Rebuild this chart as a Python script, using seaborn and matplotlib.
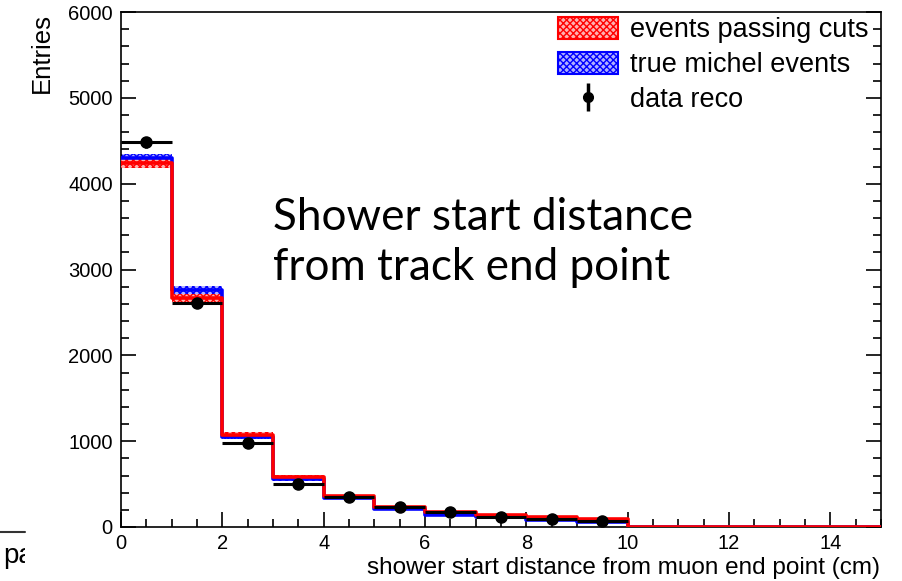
import numpy as np
import pandas as pd
import seaborn as sns
import matplotlib.pyplot as plt
from matplotlib.patches import Patch
from matplotlib.lines import Line2D
from matplotlib.ticker import MultipleLocator
from matplotlib.transforms import Bbox

sns.set_style("ticks")
plt.rcParams["font.family"] = ["Liberation Sans", "DejaVu Sans"]
plt.rcParams["hatch.linewidth"] = 1.0
plt.rcParams["text.color"] = "black"
plt.rcParams["xtick.color"] = "black"
plt.rcParams["ytick.color"] = "black"

# histogram content, bins of 1 cm from 0 to 15
bin_edges = np.arange(0, 16)
bin_centers = bin_edges[:-1] + 0.5

passing = [4240, 2670, 1075, 585, 360, 228, 172, 138, 112, 90, 0, 0, 0, 0, 0]
passing_err = [58, 46, 30, 22, 17, 14, 12, 11, 10, 9, 0, 0, 0, 0, 0]

michel = [4295, 2760, 1050, 560, 340, 208, 145, 118, 86, 64, 0, 0, 0, 0, 0]
michel_err = [50, 48, 28, 20, 16, 13, 11, 10, 9, 8, 0, 0, 0, 0, 0]

data_x = [0.5, 1.5, 2.5, 3.5, 4.5, 5.5, 6.5, 7.5, 8.5, 9.5]
data_y = [4480, 2610, 980, 505, 345, 235, 170, 112, 92, 72]
data_err = [67, 51, 31, 22, 19, 15, 13, 11, 10, 8]

hist_df = pd.DataFrame({"x": bin_centers, "passing": passing, "michel": michel})

fig = plt.figure(figsize=(9.02, 5.81), dpi=100)
ax = fig.add_axes([121 / 902, 54 / 581, 760 / 902, 515 / 581])

# hatched error bands
ax.bar(bin_edges[:-1], 2 * np.array(michel_err), bottom=np.array(michel) - np.array(michel_err),
       width=1, align="edge", facecolor="#b0b0ff", edgecolor="blue", hatch="xxxxx",
       linewidth=0, zorder=2)
ax.bar(bin_edges[:-1], 2 * np.array(passing_err), bottom=np.array(passing) - np.array(passing_err),
       width=1, align="edge", facecolor="#ffb0b0", edgecolor="red", hatch="xxxxx",
       linewidth=0, zorder=3)

# histogram outlines
sns.histplot(data=hist_df, x="x", weights="michel", binwidth=1, binrange=(0, 15),
             element="step", fill=False, color="blue", linewidth=2.6, ax=ax, zorder=4)
sns.histplot(data=hist_df, x="x", weights="passing", binwidth=1, binrange=(0, 15),
             element="step", fill=False, color="red", linewidth=2.6, ax=ax, zorder=5)

# data points
ax.errorbar(data_x, data_y, xerr=0.5, yerr=data_err, fmt="o", color="black",
            markersize=8, elinewidth=2.2, capsize=0, zorder=6)

ax.set_xlim(0, 15)
ax.set_ylim(0, 6000)
ax.set_xlabel("")
ax.set_ylabel("")

ax.xaxis.set_major_locator(MultipleLocator(2))
ax.xaxis.set_minor_locator(MultipleLocator(0.5))
ax.yaxis.set_major_locator(MultipleLocator(1000))
ax.yaxis.set_minor_locator(MultipleLocator(200))
ax.tick_params(which="both", direction="in", right=True, top=False, width=1.2, colors="black")
ax.tick_params(which="major", length=11)
ax.tick_params(which="minor", length=6)
ax.tick_params(axis="x", labelsize=14.5, pad=5)
ax.tick_params(axis="y", labelsize=14.5, pad=6)
for sp in ax.spines.values():
    sp.set_visible(True)
    sp.set_linewidth(1.2)
    sp.set_color("black")

# legend
handles = [
    Patch(facecolor="#ffb0b0", edgecolor="red", hatch="xxxxx", linewidth=1.5),
    Patch(facecolor="#b0b0ff", edgecolor="blue", hatch="xxxxx", linewidth=1.5),
    (Line2D([], [], marker="|", markersize=20, mew=2.5, color="black", ls=""),
     Line2D([], [], marker="o", markersize=7, color="black", ls="")),
]
labels = ["events passing cuts", "true michel events", "data reco"]
ax.legend(handles, labels, loc="upper left", bbox_to_anchor=(558 / 902, 1 - 17 / 581),
          bbox_transform=fig.transFigure, frameon=False, fontsize=19.5,
          handlelength=2.2, handleheight=0.85, handletextpad=0.45,
          labelspacing=0.33, borderpad=0, borderaxespad=0)

# axis titles
fig.text(42 / 902, 1 - 13 / 581, "Entries", rotation=90, ha="center", va="top", fontsize=18.5)
fig.text(880 / 902, 1 - 568 / 581, "shower start distance from muon end point (cm)",
         ha="right", va="center", fontsize=17.5)

# annotation pasted over the plot
fig.text(273 / 902, 1 - 230 / 581, "Shower start distance", family=["Lato", "DejaVu Sans"],
         fontsize=31.7, va="baseline", ha="left")
fig.text(273 / 902, 1 - 280 / 581, "from track end point", family=["Lato", "DejaVu Sans"],
         fontsize=31.7, va="baseline", ha="left")

# leftover fragment of the slide at the bottom left
fig.add_artist(Line2D([0, 25 / 902], [1 - 532 / 581, 1 - 532 / 581], color="#333333", lw=1.5))
frag = fig.text(3 / 902, 1 - 563 / 581, "pa", fontsize=20, va="baseline", ha="left")
frag.set_clip_box(Bbox.from_extents(0, 0, 25, 581))
frag.set_clip_on(True)

fig.savefig("out.png", dpi=100)
